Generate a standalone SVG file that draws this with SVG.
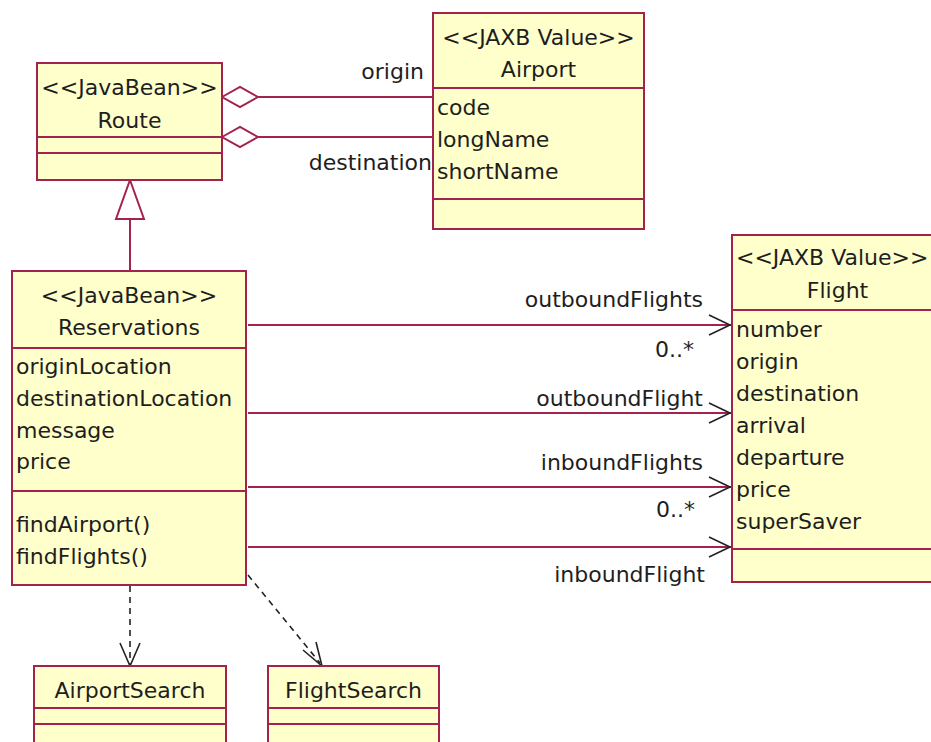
<svg xmlns="http://www.w3.org/2000/svg" width="931" height="742" viewBox="0 0 931 742">
<style>
.box{fill:#ffffcc;stroke:#a3234f;stroke-width:2}
.div{stroke:#a3234f;stroke-width:2}
.t{font-family:"DejaVu Sans",sans-serif;font-size:22px;fill:#1e1e1e}
.c{text-anchor:middle}
.r{text-anchor:end}
.assoc{stroke:#a3234f;stroke-width:2;fill:none}
.head{stroke:#222;stroke-width:1.6;fill:none}
.dep{stroke:#222;stroke-width:1.6;fill:none;stroke-dasharray:6,5}
</style>
<rect width="931" height="742" fill="#ffffff"/>
<g id="connectors">
  <line class="assoc" x1="258" y1="97" x2="433" y2="97"/>
  <polygon points="222,97 240,87 258,97 240,107" fill="#ffffff" stroke="#a3234f" stroke-width="2"/>
  <line class="assoc" x1="258" y1="137" x2="433" y2="137"/>
  <polygon points="222,137 240,127 258,137 240,147" fill="#ffffff" stroke="#a3234f" stroke-width="2"/>
  <text class="t r" x="424" y="79">origin</text>
  <text class="t r" x="432" y="170">destination</text>
  <line class="assoc" x1="130" y1="219" x2="130" y2="271"/>
  <polygon points="130,180 144,219 116,219" fill="#ffffff" stroke="#a3234f" stroke-width="2"/>
  <line class="assoc" x1="248" y1="325" x2="731" y2="325"/>
  <polyline class="head" points="709,315 730,325 709,335"/>
  <text class="t r" x="703" y="307">outboundFlights</text>
  <text class="t r" x="694" y="357">0..*</text>
  <line class="assoc" x1="248" y1="413" x2="731" y2="413"/>
  <polyline class="head" points="709,403 730,413 709,423"/>
  <text class="t r" x="703" y="406">outboundFlight</text>
  <line class="assoc" x1="248" y1="487" x2="731" y2="487"/>
  <polyline class="head" points="709,477 730,487 709,497"/>
  <text class="t r" x="703" y="470">inboundFlights</text>
  <text class="t r" x="695" y="517">0..*</text>
  <line class="assoc" x1="248" y1="547" x2="731" y2="547"/>
  <polyline class="head" points="709,537 730,547 709,557"/>
  <text class="t r" x="705" y="582">inboundFlight</text>
  <line class="dep" x1="130" y1="586" x2="130" y2="664"/>
  <polyline class="head" points="120,643 130,666 140,643"/>
  <line class="dep" x1="248" y1="575" x2="320" y2="663"/>
  <polyline class="head" points="303,650 322,666 316,642"/>
</g>
<g id="route">
  <rect class="box" x="37" y="63" width="185" height="117"/>
  <line class="div" x1="37" y1="137" x2="222" y2="137"/>
  <line class="div" x1="37" y1="153" x2="222" y2="153"/>
  <text class="t c" x="129.5" y="95">&lt;&lt;JavaBean&gt;&gt;</text>
  <text class="t c" x="129.5" y="128">Route</text>
</g>
<g id="airport">
  <rect class="box" x="433" y="13" width="211" height="216"/>
  <line class="div" x1="433" y1="88" x2="644" y2="88"/>
  <line class="div" x1="433" y1="199" x2="644" y2="199"/>
  <text class="t c" x="538.5" y="45">&lt;&lt;JAXB Value&gt;&gt;</text>
  <text class="t c" x="538.5" y="77">Airport</text>
  <text class="t" x="437" y="115">code</text>
  <text class="t" x="437" y="147">longName</text>
  <text class="t" x="437" y="179">shortName</text>
</g>
<g id="reservations">
  <rect class="box" x="12" y="271" width="234" height="314"/>
  <line class="div" x1="12" y1="348" x2="246" y2="348"/>
  <line class="div" x1="12" y1="491" x2="246" y2="491"/>
  <text class="t c" x="129" y="303">&lt;&lt;JavaBean&gt;&gt;</text>
  <text class="t c" x="129" y="335">Reservations</text>
  <text class="t" x="16" y="374">originLocation</text>
  <text class="t" x="16" y="406">destinationLocation</text>
  <text class="t" x="16" y="438">message</text>
  <text class="t" x="16" y="469">price</text>
  <text class="t" x="16" y="532">findAirport()</text>
  <text class="t" x="16" y="564">findFlights()</text>
</g>
<g id="flight">
  <rect class="box" x="732" y="235" width="211" height="347"/>
  <line class="div" x1="732" y1="310" x2="943" y2="310"/>
  <line class="div" x1="732" y1="549" x2="943" y2="549"/>
  <text class="t" x="736" y="265">&lt;&lt;JAXB Value&gt;&gt;</text>
  <text class="t c" x="837.5" y="298">Flight</text>
  <text class="t" x="736" y="337">number</text>
  <text class="t" x="736" y="369">origin</text>
  <text class="t" x="736" y="401">destination</text>
  <text class="t" x="736" y="433">arrival</text>
  <text class="t" x="736" y="465">departure</text>
  <text class="t" x="736" y="497">price</text>
  <text class="t" x="736" y="529">superSaver</text>
</g>
<g id="airportsearch">
  <rect class="box" x="34" y="666" width="192" height="90"/>
  <line class="div" x1="34" y1="708" x2="226" y2="708"/>
  <line class="div" x1="34" y1="724" x2="226" y2="724"/>
  <text class="t c" x="130" y="698">AirportSearch</text>
</g>
<g id="flightsearch">
  <rect class="box" x="268" y="666" width="171" height="90"/>
  <line class="div" x1="268" y1="708" x2="439" y2="708"/>
  <line class="div" x1="268" y1="724" x2="439" y2="724"/>
  <text class="t c" x="353.5" y="698">FlightSearch</text>
</g>
</svg>
